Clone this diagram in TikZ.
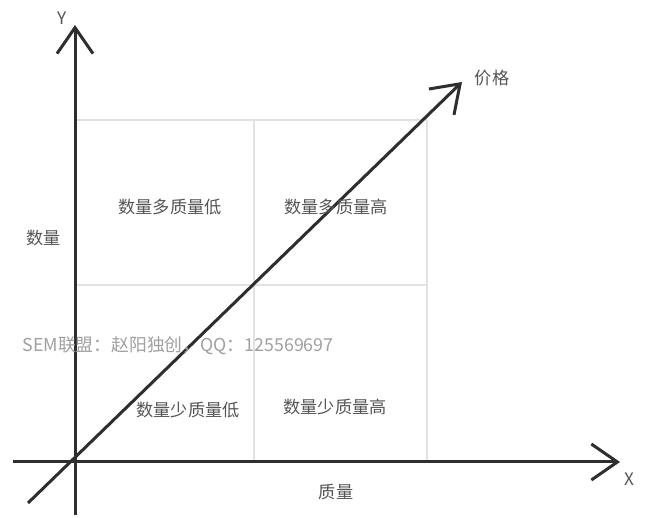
\documentclass[tikz,border=0pt]{standalone}
\usepackage{fontspec}
\setmainfont{Noto Sans CJK SC}
\usetikzlibrary{arrows.meta}
\definecolor{axisgray}{HTML}{2E2E2E}
\definecolor{gridgray}{HTML}{E2E2E2}
\definecolor{textgray}{HTML}{555555}
\definecolor{markgray}{HTML}{A0A0A0}
\begin{document}
\begin{tikzpicture}[x=1pt,y=-1pt,>={Straight Barb[length=26pt,width=36pt]},
  axis line/.style={draw=axisgray,line width=3pt,->},
  grid line/.style={draw=gridgray,line width=2pt},
  main node/.style={rectangle,inner sep=0pt,text=textgray,font=\fontsize{17.2}{19}\selectfont}]
\useasboundingbox[fill=white] (0,0) rectangle (651,518);
% quadrants
\foreach \x in {254,427} \draw[grid line] (\x,120) -- (\x,462);
\foreach \y in {120,285} \draw[grid line] (75,\y) -- (427,\y);
% axes
\coordinate (ybot) at (75,515);
\coordinate (ytip) at (75,25);
\coordinate (xleft) at (13,462);
\coordinate (xtip) at (620,462);
\coordinate (pbot) at (28,503);
\coordinate (ptip) at (462,82);
\draw[axis line] (ybot) -- (ytip);
\draw[axis line] (xleft) -- (xtip);
\draw[axis line] (pbot) -- (ptip);
% labels
\node[main node] (ylabel) at (62,18) {Y};
\node[main node] (xlabel) at (629,479) {X};
\node[main node] (price) at (492,78) {价格};
\node[main node] (qty) at (44,238) {数量};
\node[main node] (quality) at (336,492) {质量};
\node[main node] (hilo) at (170,207) {数量多质量低};
\node[main node] (hihi) at (336,207) {数量多质量高};
\node[main node] (lolo) at (188,410) {数量少质量低};
\node[main node] (lohi) at (335,407) {数量少质量高};
\node[main node,text=markgray,font=\fontsize{17.8}{20}\selectfont] (mark) at (178,346) {SEM联盟：赵阳独创，QQ：125569697};
\end{tikzpicture}
\end{document}
